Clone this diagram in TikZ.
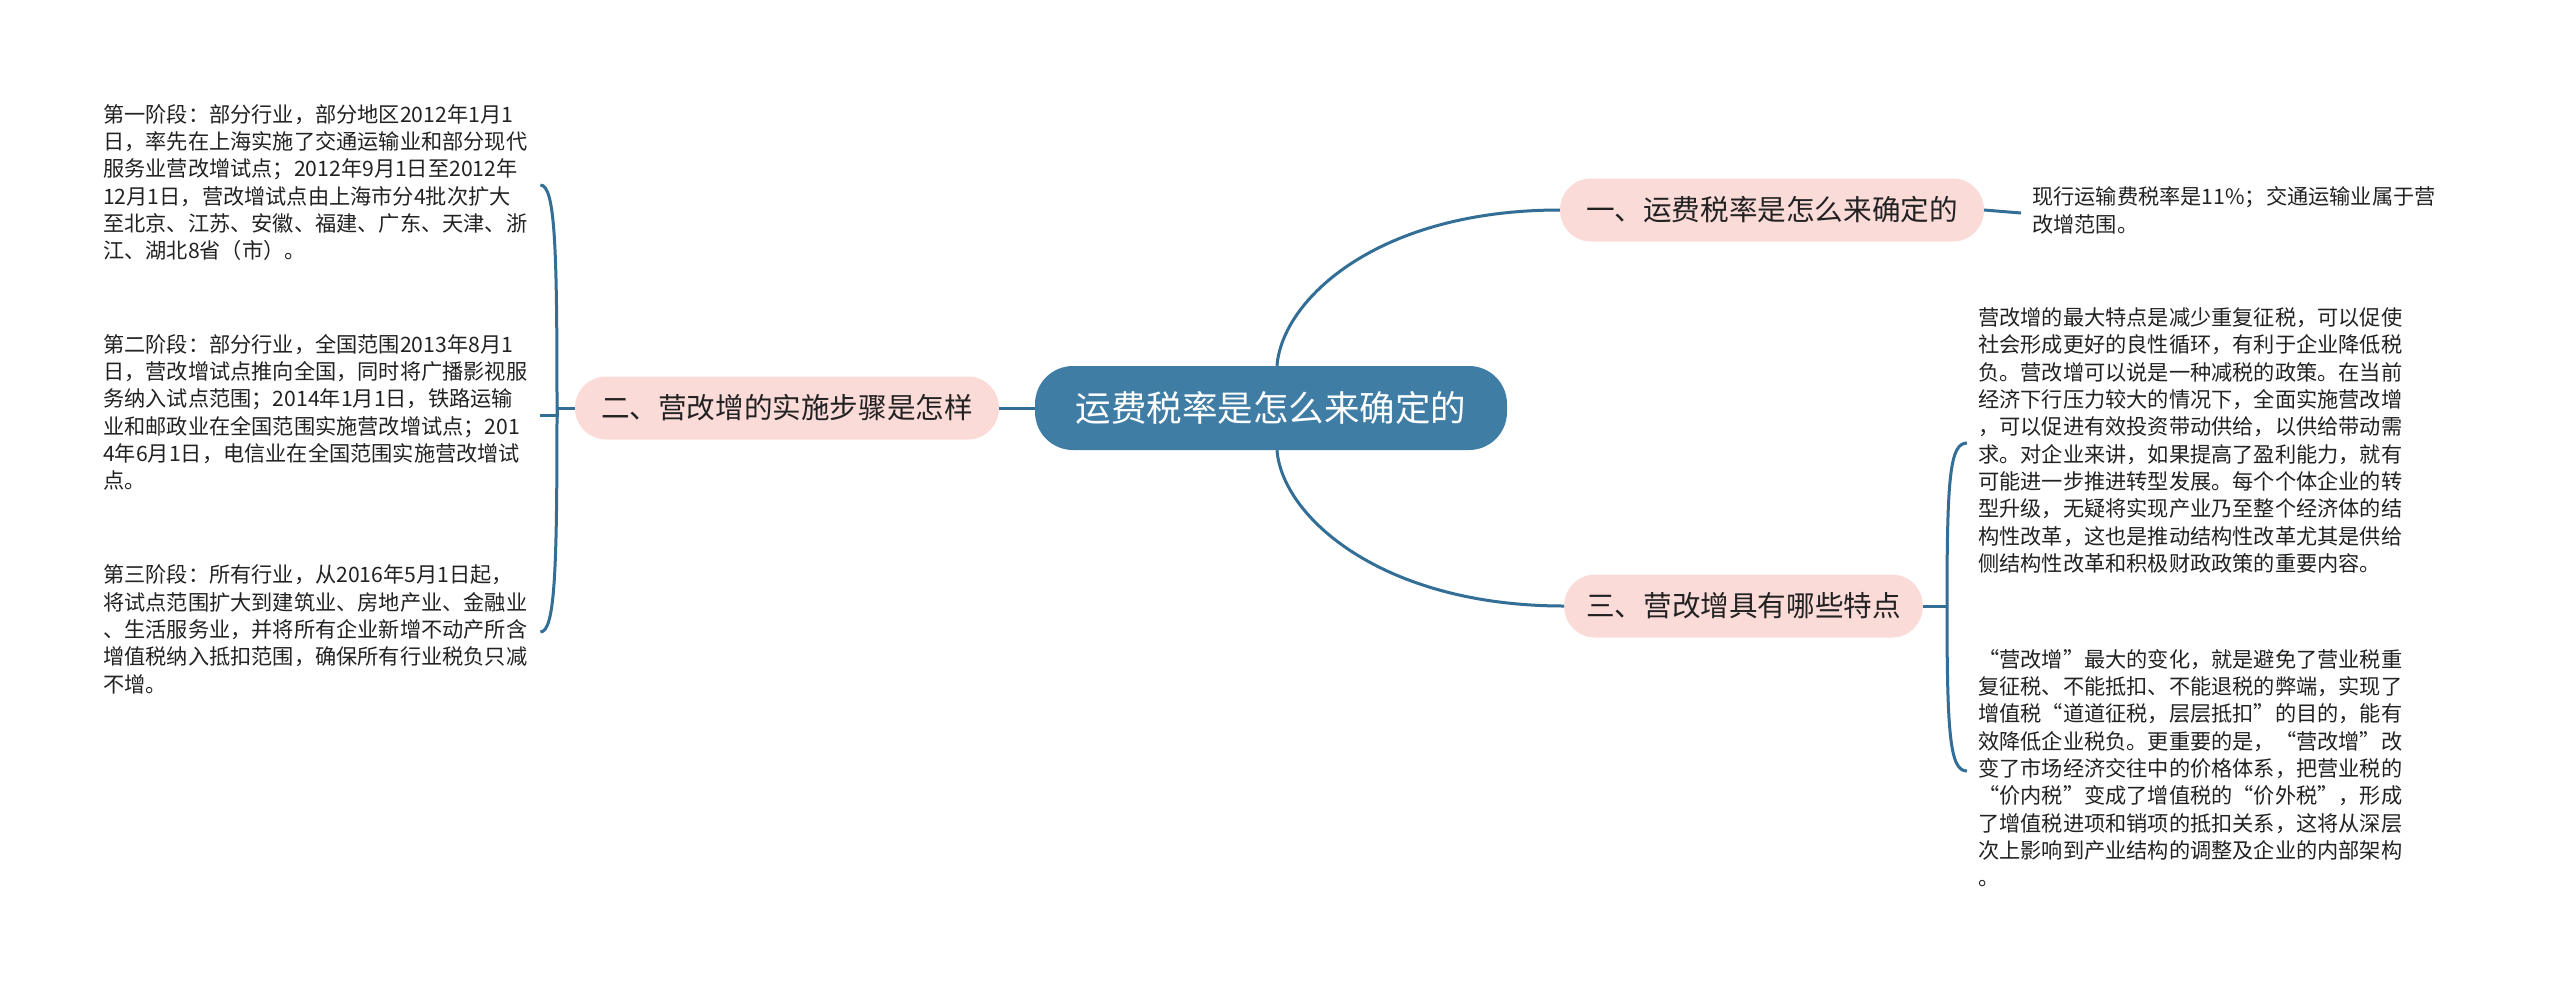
\documentclass[tikz,border=0pt]{standalone}
\usepackage{fontspec}
\setmainfont{Noto Sans CJK SC}
\definecolor{cblue}{HTML}{3F7DA5}
\definecolor{lblue}{HTML}{326E96}
\definecolor{pinkfill}{HTML}{FADBD8}
\definecolor{txt}{HTML}{222222}
\newcommand\leaffont{\fontsize{21.2pt}{27.3pt}\selectfont}
\begin{document}
\begin{tikzpicture}[x=1pt,y=-1pt,
  centernode/.style={fill=cblue, rounded corners=38pt, minimum width=472pt, minimum height=84pt, text=white, font=\fontsize{35.5pt}{40pt}\selectfont, inner sep=0pt},
  branch/.style={fill=pinkfill, rounded corners=31pt, minimum height=63pt, inner xsep=26pt, inner ysep=0pt, text=txt, font=\fontsize{28.6pt}{34pt}\selectfont},
  leaf/.style={font=\leaffont, text=txt, align=left, inner xsep=11pt, inner ysep=0pt},
  leftleaf/.style={leaf, text width=426pt},
  conn/.style={draw=lblue, line width=3pt}
]
\fill[white] (0,0) rectangle (2560,994);
\useasboundingbox (0,0) rectangle (2560,994);

\node[centernode] (c) at (1271,408) {运费税率是怎么来确定的};
\node[branch] (b1) at (1772,210) {一、运费税率是怎么来确定的};
\node[branch] (b2) at (787,408) {二、营改增的实施步骤是怎样};
\node[branch, anchor=west, inner xsep=22pt] (b3) at (1564,606) {三、营改增具有哪些特点};

\node[leaf, anchor=west] (t1) at (2021,213) {\strut 现行运输费税率是11\%；交通运输业属于营\\改增范围。\strut};

\node[leaf, anchor=west] (rp1) at (1967,443) {\strut 营改增的最大特点是减少重复征税，可以促使\\社会形成更好的良性循环，有利于企业降低税\\负。营改增可以说是一种减税的政策。在当前\\经济下行压力较大的情况下，全面实施营改增\\，可以促进有效投资带动供给，以供给带动需\\求。对企业来讲，如果提高了盈利能力，就有\\可能进一步推进转型发展。每个个体企业的转\\型升级，无疑将实现产业乃至整个经济体的结\\构性改革，这也是推动结构性改革尤其是供给\\侧结构性改革和积极财政政策的重要内容。\strut};

\node[leaf, anchor=west] (rp2) at (1967,771) {\strut “营改增”最大的变化，就是避免了营业税重\\复征税、不能抵扣、不能退税的弊端，实现了\\增值税“道道征税，层层抵扣”的目的，能有\\效降低企业税负。更重要的是，“营改增”改\\变了市场经济交往中的价格体系，把营业税的\\“价内税”变成了增值税的“价外税”，形成\\了增值税进项和销项的抵扣关系，这将从深层\\次上影响到产业结构的调整及企业的内部架构\\。\strut};

\node[leftleaf, anchor=west] (lp1) at (92,185) {\strut 第一阶段：部分行业，部分地区2012年1月1\\日，率先在上海实施了交通运输业和部分现代\\服务业营改增试点；2012年9月1日至2012年\\12月1日，营改增试点由上海市分4批次扩大\\至北京、江苏、安徽、福建、广东、天津、浙\\江、湖北8省（市）。\strut};

\node[leftleaf, anchor=west] (lp2) at (92,415) {\strut 第二阶段：部分行业，全国范围2013年8月1\\日，营改增试点推向全国，同时将广播影视服\\务纳入试点范围；2014年1月1日，铁路运输\\业和邮政业在全国范围实施营改增试点；201\\4年6月1日，电信业在全国范围实施营改增试\\点。\strut};

\node[leftleaf, anchor=west] (lp3) at (92,632) {\strut 第三阶段：所有行业，从2016年5月1日起，\\将试点范围扩大到建筑业、房地产业、金融业\\、生活服务业，并将所有企业新增不动产所含\\增值税纳入抵扣范围，确保所有行业税负只减\\不增。\strut};

\coordinate (J) at (557,408);
\coordinate (J3) at (1947,606);

% main connectors
\draw[conn] ([xshift=6pt]c.north) .. controls +(5,-66) and +(-183,0) .. (b1.west);
\draw[conn] ([xshift=6pt]c.south) .. controls +(5,66) and +(-183,0) .. (b3.west);
\draw[conn] (c.west) -- (b2.east);
\draw[conn] (b1.east) -- (t1.west);

% left bracket
\draw[conn] (b2.west) -- (J);
\draw[conn] (J) .. controls +(0,-158) and +(15,0) .. (lp1.east);
\draw[conn] (J) .. controls +(0,158) and +(15,0) .. (lp3.east);
\draw[conn] (J) -- (J |- lp2.east) -- (lp2.east);

% right bracket
\draw[conn] (b3.east) -- (J3);
\draw[conn] (J3) .. controls +(0,-130) and +(-17,0) .. (rp1.west);
\draw[conn] (J3) .. controls +(0,130) and +(-17,0) .. (rp2.west);
\end{tikzpicture}
\end{document}
